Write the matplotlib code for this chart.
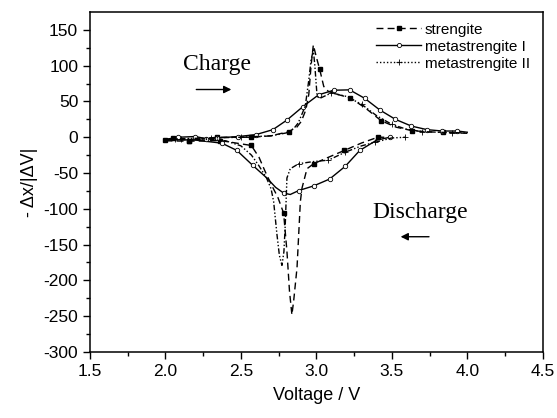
import numpy as np
import matplotlib
matplotlib.use('Agg')
from matplotlib import pyplot as plt
from matplotlib.lines import Line2D

# strengite (dashed, filled squares)
strengite_chg_v = [2.00, 2.05, 2.15, 2.34, 2.57, 2.70, 2.816, 2.87, 2.90, 2.93, 2.95, 2.965, 2.98,
                   3.00, 3.022, 3.049, 3.08, 3.137, 3.226, 3.33, 3.43, 3.53, 3.635, 3.74, 3.84, 4.00]
strengite_chg_y = [-4, -1.5, -4.5, 0, 0, 2, 7.8, 14, 22, 38, 60, 100, 129,
                   112, 95, 71, 64, 60, 55, 40, 23, 14, 9.2, 7.5, 6.9, 5.5]
strengite_dis_v = [2.00, 2.153, 2.363, 2.569, 2.62, 2.661, 2.706, 2.745, 2.783, 2.805, 2.822, 2.838,
                   2.85, 2.872, 2.883, 2.894, 2.905, 2.938, 2.982, 3.08, 3.186, 3.30, 3.407, 3.45]
strengite_dis_y = [-5, -5.5, -4.6, -11.5, -28, -48, -68, -84, -106, -159, -215, -248,
                   -228, -182, -136, -90, -71, -44, -37, -28, -18.4, -8, 0, 0]
strengite_mk_v = [2.00, 2.053, 2.153, 2.34, 2.569, 2.816, 3.022, 3.226, 3.43, 3.635, 3.84,
                  2.153, 2.363, 2.569, 2.783, 2.982, 3.186, 3.407]
strengite_mk_y = [-4, -1.4, -4.6, 0, 0, 7.8, 95, 55, 23, 9.2, 6.9,
                  -5.5, -4.6, -11.5, -106, -37, -18.4, 0]

# metastrengite I (solid, open circles)
meta1_chg_v = [2.00, 2.086, 2.197, 2.27, 2.34, 2.484, 2.60, 2.712, 2.805, 2.911, 3.015, 3.115,
               3.221, 3.321, 3.42, 3.524, 3.63, 3.734, 3.834, 3.934, 4.00]
meta1_chg_y = [-3, 0, 1, -2, -1, 1, 3.7, 10.6, 24, 42.8, 59.3, 65.7,
               66.2, 54.3, 38.2, 25, 15.6, 10.6, 8.7, 8.7, 7]
meta1_dis_v = [2.00, 2.20, 2.374, 2.473, 2.577, 2.672, 2.73, 2.783, 2.827, 2.883, 2.982, 3.088,
               3.192, 3.288, 3.40, 3.487]
meta1_dis_y = [-3, -4, -8.3, -18.4, -39, -57, -70, -78, -80, -74.5, -68, -58.4,
               -40.5, -18.4, -4, 0]
meta1_mk_v = [2.086, 2.197, 2.27, 2.34, 2.484, 2.60, 2.712, 2.805, 2.911, 3.015, 3.115, 3.221,
              3.321, 3.42, 3.524, 3.63, 3.734, 3.834, 3.934,
              2.374, 2.473, 2.577, 2.783, 2.883, 2.982, 3.088, 3.192, 3.288, 3.487]
meta1_mk_y = [0, 1, -2, -1, 1, 3.7, 10.6, 24, 42.8, 59.3, 65.7, 66.2,
              54.3, 38.2, 25, 15.6, 10.6, 8.7, 8.7,
              -8.3, -18.4, -39, -78, -74.5, -68, -58.4, -40.5, -18.4, 0]

# metastrengite II (dash-dot-dot, plus markers)
meta2_chg_v = [2.00, 2.10, 2.30, 2.50, 2.70, 2.80, 2.85, 2.88, 2.91, 2.927, 2.95, 2.965, 2.98,
               2.99, 3.005, 3.03, 3.10, 3.20, 3.30, 3.40, 3.50, 3.60, 3.70, 3.80, 4.00]
meta2_chg_y = [-4, -2, -1, 0, 2, 6, 12, 20, 35, 44, 80, 108, 122,
               100, 57, 55, 62, 57, 46, 30, 18, 11, 8, 7, 6]
meta2_dis_v = [2.00, 2.30, 2.40, 2.50, 2.57, 2.62, 2.67, 2.70, 2.717, 2.739, 2.755, 2.772, 2.785,
               2.794, 2.805, 2.827, 2.883, 2.98, 3.08, 3.19, 3.30, 3.39, 3.50, 3.59]
meta2_dis_y = [-4, -3, -5, -12, -25, -40, -57, -72, -90, -136, -165, -179, -160,
               -122, -57, -44, -37, -34, -32, -21, -12, -7, -1, 0]
meta2_mk_v = [2.06, 2.10, 2.30, 2.50, 3.10, 3.30, 3.50, 3.70, 3.90,
              2.883, 3.08, 3.19, 3.39, 3.59]
meta2_mk_y = [-3, -2, -1, 0, 62, 46, 18, 8, 6.5,
              -37, -32, -21, -7, 0]

plt.rcParams['font.family'] = ['Liberation Sans', 'DejaVu Sans']
plt.rcParams['axes.unicode_minus'] = False

fig = plt.figure(figsize=(5.57, 4.18), dpi=100)
ax = fig.add_axes([0.1616, 0.158, 0.8127, 0.8133])

dash_s = (0, (5, 3))
dash_m2 = (0, (4, 1.5, 1, 1.5, 1, 1.5))

for v, y in [(strengite_chg_v, strengite_chg_y), (strengite_dis_v, strengite_dis_y)]:
    ax.plot(v, y, color='black', lw=1.0, ls=dash_s)
ax.plot(strengite_mk_v, strengite_mk_y, ls='none', marker='s', ms=3.2, color='black')

for v, y in [(meta1_chg_v, meta1_chg_y), (meta1_dis_v, meta1_dis_y)]:
    ax.plot(v, y, color='black', lw=1.0, ls='-')
ax.plot(meta1_mk_v, meta1_mk_y, ls='none', marker='o', ms=3.2, mfc='white', mec='black', mew=0.6)

for v, y in [(meta2_chg_v, meta2_chg_y), (meta2_dis_v, meta2_dis_y)]:
    ax.plot(v, y, color='black', lw=1.0, ls=dash_m2)
ax.plot(meta2_mk_v, meta2_mk_y, ls='none', marker='+', ms=4.5, color='black', mew=0.6)

handles = [
    Line2D([], [], color='black', lw=1.0, ls=dash_s, marker='s', ms=3),
    Line2D([], [], color='black', lw=1.0, ls='-', marker='o', ms=3, mfc='white', mew=0.6),
    Line2D([], [], color='black', lw=1.0, ls=(0, (1, 1.5)), marker='+', ms=4.5, mew=0.6),
]
ax.legend(handles, ['strengite', 'metastrengite I', 'metastrengite II'],
          loc='upper right', bbox_to_anchor=(0.995, 1.0), frameon=False, fontsize=11,
          handlelength=2.9, handletextpad=0.25, labelspacing=0.2, numpoints=1,
          borderaxespad=0.3)

ax.text(2.34, 101, 'Charge', family='Liberation Serif', fontsize=17, ha='center', va='center')
ax.annotate('', xy=(2.455, 66.7), xytext=(2.186, 66.7),
            arrowprops=dict(arrowstyle='-|>', color='black', lw=1.0, mutation_scale=11))
ax.text(3.69, -105, 'Discharge', family='Liberation Serif', fontsize=17, ha='center', va='center')
ax.annotate('', xy=(3.54, -139), xytext=(3.765, -139),
            arrowprops=dict(arrowstyle='-|>', color='black', lw=1.0, mutation_scale=11))

ax.set_xlim(1.5, 4.5)
ax.set_ylim(-300, 175)
ax.set_xticks(np.arange(1.5, 4.51, 0.5))
ax.set_xticks(np.arange(1.75, 4.5, 0.5), minor=True)
ax.set_yticks(np.arange(-300, 151, 50))
ax.set_yticks(np.arange(-275, 175, 50), minor=True)
ax.xaxis.set_major_formatter(matplotlib.ticker.FormatStrFormatter('%.1f'))
ax.tick_params(which='major', direction='out', length=5, width=1.0, labelsize=12.5)
ax.tick_params(which='minor', direction='out', length=3, width=1.0)
ax.tick_params(top=False, right=False)
for s in ax.spines.values():
    s.set_linewidth(1.1)

ax.set_xlabel('Voltage / V', fontsize=13, labelpad=6)
ax.set_ylabel('- Δx/|ΔV|', fontsize=13, labelpad=4)

fig.savefig('out.png', dpi=100, facecolor='white')
